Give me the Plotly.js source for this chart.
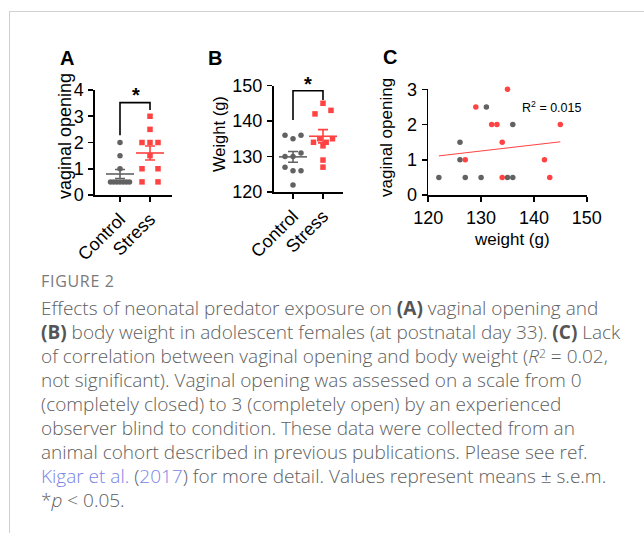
<!DOCTYPE html>
<html>
<head>
<meta charset="utf-8">
<script src="https://cdn.plot.ly/plotly-3.0.1.min.js"></script>
<style>
  html, body { margin:0; padding:0; background:#fff; }
  #page { position:relative; width:644px; height:533px; overflow:hidden; background:#fff; }
  #frame { position:absolute; left:9px; top:11px; width:700px; height:600px;
           border-top:1.5px solid #d2d2d2; border-left:1.5px solid #cfcfcf; }
  #chart { position:absolute; left:0; top:0; width:644px; height:533px; }
  #figlab { position:absolute; left:41px; top:272px; font-family:'Open Sans', 'Noto Sans', sans-serif;
            font-size:16px; line-height:18px; color:#7a7a7a; letter-spacing:0.7px; white-space:nowrap; }
  #caption { position:absolute; left:41px; top:296px; font-family:'Open Sans', 'Noto Sans', sans-serif;
             font-size:19px; font-weight:300; line-height:24px; color:#5e5e5e; white-space:nowrap; }
  #caption b { font-weight:700; color:#555; }
  #caption sup { font-size:0.64em; line-height:0; vertical-align:0.45em; }
  .lnk { color:#7a84e6; }
</style>
</head>
<body>
<div id="page">
  <div id="frame"></div>
  <div id="chart"></div>
  <div id="figlab">FIGURE 2</div>
  <div id="caption">
    Effects of neonatal predator exposure on <b>(A)</b> vaginal opening and<br>
    <b>(B)</b> body weight in adolescent females (at postnatal day 33). <b>(C)</b> Lack<br>
    of correlation between vaginal opening and body weight (<i>R</i><sup>2</sup> = 0.02,<br>
    not significant). Vaginal opening was assessed on a scale from 0<br>
    (completely closed) to 3 (completely open) by an experienced<br>
    observer blind to condition. These data were collected from an<br>
    animal cohort described in previous publications. Please see ref.<br>
    <span class="lnk">Kigar et al.</span> (<span class="lnk">2017</span>) for more detail. Values represent means ± s.e.m.<br>
    *<i>p</i> &lt; 0.05.
  </div>
</div>
<script>
// ---------------- DATA ----------------
const groups = ["Control", "Stress"];
// Panel A: vaginal opening score per animal
const vagControl = [2, 1.5, 1, 0.5, 0.5, 0.5, 0.5, 0.5, 0.5, 0.5];
const vagStress  = [3, 2.5, 2, 2, 2, 1.5, 1, 1, 0.5, 0.5];
// Panel B: body weight (g) per animal
const wtControl = [136, 135, 136, 130, 130, 131, 127, 126, 126, 122];
const wtStress  = [145, 142, 143, 134, 135, 134, 135, 133, 129, 127];
// Panel C: scatter weight vs vaginal opening
const scCtrlWeight = [122, 126, 126, 127, 130, 131, 135, 136, 136];
const scCtrlVag    = [0.5, 1.5, 1.0, 0.5, 0.5, 2.5, 0.5, 0.5, 2.0];
const scStrWeight  = [127, 129, 132, 133, 134, 134, 135, 142, 143, 145];
const scStrVag     = [1.0, 2.5, 2.0, 2.0, 1.5, 0.5, 3.0, 1.0, 0.5, 2.0];
const fitWeight = [122, 145];
const fitVag    = [1.11, 1.51];
const r2Label = "R<sup>2</sup> = 0.015";
const ticksA = [0, 1, 2, 3, 4];
const ticksB = [120, 130, 140, 150];
const ticksCx = [120, 130, 140, 150];
const ticksCy = [0, 1, 2, 3];

// ---------------- STYLE / LAYOUT ----------------
const W = 644, H = 533;
const GRAY = "#626262", RED = "#ff4242";
const FONT = "Arial, 'Liberation Sans', sans-serif";
const fx = p => p / W, fy = p => 1 - p / H;

const P = {
  A: {l: 95, r: 172, t: 90, b: 195, xr: [-0.833, 1.733], yr: [0, 4]},
  B: {l: 273.5, r: 343, t: 85.5, b: 192, xr: [-0.65, 1.667], yr: [120, 150]},
  C: {l: 428.3, r: 586.7, t: 89.3, b: 195, xr: [120, 150], yr: [0, 3]}
};
function pxY(p) { return (p.b - p.t) / (p.yr[1] - p.yr[0]); }
function pxX(p) { return (p.r - p.l) / (p.xr[1] - p.xr[0]); }

// Prism-like horizontal spread of points sharing a row
function spread(vals, p) {
  const py = pxY(p), px = pxX(p);
  const thr = 5, step = 8, maxHalf = 9.5;
  const order = vals.map((v, i) => i).sort((a, b) => vals[b] - vals[a] || a - b);
  const rows = [];
  order.forEach(i => {
    const row = rows[rows.length - 1];
    if (row && (vals[row[0]] - vals[i]) * py < thr) row.push(i); else rows.push([i]);
  });
  const off = new Array(vals.length).fill(0);
  rows.forEach(row => {
    row.sort((a, b) => a - b);
    const n = row.length;
    const slots = n === 1 ? [0] : n === 2 ? [-1, 1] : row.map((_, k) => k - (n - 1) / 2);
    const m = Math.max(...slots.map(Math.abs));
    const sp = m > 0 ? Math.min(step, maxHalf / m) : step;
    row.forEach((idx, k) => { off[idx] = slots[k] * sp / px; });
  });
  return off;
}
const mean = a => a.reduce((s, v) => s + v, 0) / a.length;
const sem = a => { const m = mean(a); return Math.sqrt(a.reduce((s, v) => s + (v - m) ** 2, 0) / (a.length - 1) / a.length); };

function dotTraces(vals, gi, color, symbol, p, xa, ya) {
  const off = spread(vals, p);
  return [{
    type: "scatter", mode: "markers", xaxis: xa, yaxis: ya, cliponaxis: false,
    x: vals.map((v, i) => gi + off[i]), y: vals, hoverinfo: "y",
    marker: {symbol: symbol, size: 5.5, color: color}
  }, {
    type: "scatter", mode: "markers", xaxis: xa, yaxis: ya, cliponaxis: false,
    x: [gi], y: [mean(vals)],
    marker: {symbol: "line-ew", size: 20, color: color, line: {color: color, width: 1.6}},
    error_y: {type: "data", array: [sem(vals)], visible: true, color: color, thickness: 1.6, width: 5}
  }];
}

const traces = [
  ...dotTraces(vagControl, 0, GRAY, "circle", P.A, "x", "y"),
  ...dotTraces(vagStress, 1, RED, "square", P.A, "x", "y"),
  ...dotTraces(wtControl, 0, GRAY, "circle", P.B, "x2", "y2"),
  ...dotTraces(wtStress, 1, RED, "square", P.B, "x2", "y2"),
  {type: "scatter", mode: "lines", xaxis: "x3", yaxis: "y3", x: fitWeight, y: fitVag,
   line: {color: RED, width: 1}, hoverinfo: "skip"},
  {type: "scatter", mode: "markers", xaxis: "x3", yaxis: "y3", x: scCtrlWeight, y: scCtrlVag,
   cliponaxis: false, marker: {size: 5.5, color: GRAY}},
  {type: "scatter", mode: "markers", xaxis: "x3", yaxis: "y3", x: scStrWeight, y: scStrVag,
   cliponaxis: false, marker: {size: 5.5, color: RED}}
];

function xAxis(p, anchor, extra) {
  return Object.assign({
    domain: [fx(p.l), fx(p.r)], range: p.xr, anchor: anchor, showgrid: false, zeroline: false,
    showline: true, linecolor: "#000", linewidth: 1.6, ticks: "outside", ticklen: 5, tickwidth: 1.6,
    tickcolor: "#000", tickfont: {family: FONT, size: 18, color: "#000"}, fixedrange: true
  }, extra);
}
function yAxis(p, anchor, tv) {
  return {
    domain: [fy(p.b), fy(p.t)], range: p.yr, anchor: anchor, showgrid: false, zeroline: false,
    showline: true, linecolor: "#000", linewidth: 1.6, ticks: "outside", ticklen: 5, tickwidth: 1.6,
    tickcolor: "#000", tickvals: tv, ticktext: tv.map(String), ticklabelstandoff: 1,
    tickfont: {family: FONT, size: 18, color: "#000"}, fixedrange: true
  };
}

function txt(text, x, y, size, opts) {
  return Object.assign({text: text, x: fx(x), y: fy(y), xref: "paper", yref: "paper",
    xanchor: "center", yanchor: "middle",
    showarrow: false, font: {family: FONT, size: size, color: "#000"}}, opts || {});
}

const layout = {
  width: W, height: H, margin: {l: 0, r: 0, t: 0, b: 0},
  paper_bgcolor: "rgba(0,0,0,0)", plot_bgcolor: "rgba(0,0,0,0)", showlegend: false,
  xaxis: xAxis(P.A, "y", {tickvals: [0, 1], ticktext: groups, tickangle: -45, ticklabelstandoff: 0}),
  yaxis: yAxis(P.A, "x", ticksA),
  xaxis2: xAxis(P.B, "y2", {tickvals: [0, 1], ticktext: groups, tickangle: -45, ticklabelstandoff: 0}),
  yaxis2: yAxis(P.B, "x2", ticksB),
  xaxis3: xAxis(P.C, "y3", {tickvals: ticksCx, ticktext: ticksCx.map(String), ticklabelstandoff: 1}),
  yaxis3: yAxis(P.C, "x3", ticksCy),
  shapes: [
    {type: "path", xref: "x", yref: "y", path: "M 0,2.28 L 0,3.52 L 1,3.52 L 1,3.24",
     line: {color: "#000", width: 1.6}},
    {type: "path", xref: "x2", yref: "y2", path: "M 0,140.3 L 0,148.5 L 1,148.5 L 1,145.9",
     line: {color: "#000", width: 1.6}}
  ],
  annotations: [
    txt("<b>A</b>", 67, 58, 20),
    txt("<b>B</b>", 215, 58, 20),
    txt("<b>C</b>", 390, 57, 20),
    txt("vaginal opening", 65, 136, 18, {textangle: -90}),
    txt("Weight (g)", 219, 134, 16.5, {textangle: -90}),
    txt("vaginal opening", 386, 138, 17, {textangle: -90}),
    txt("weight (g)", 512, 239, 17),
    txt("<b>*</b>", 136, 95, 20),
    txt("<b>*</b>", 308, 84, 20),
    {text: r2Label, x: 137.4, y: 2.51, xref: "x3", yref: "y3", xanchor: "left", yanchor: "middle",
     showarrow: false, font: {family: FONT, size: 12.5, color: "#000"}}
  ]
};

Plotly.newPlot("chart", traces, layout, {staticPlot: true, displayModeBar: false});
</script>
</body>
</html>
